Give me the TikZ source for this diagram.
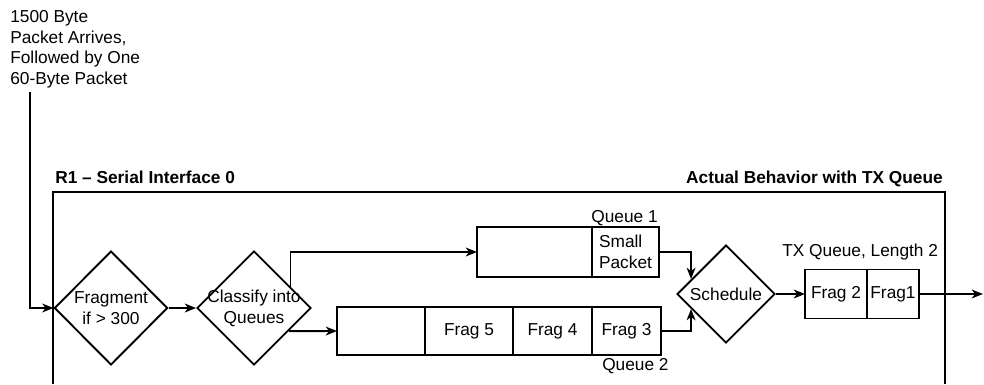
\documentclass[tikz,border=0pt]{standalone}
\usepackage{fontspec}
\setmainfont{Liberation Sans}
\usetikzlibrary{shapes.geometric, arrows.meta, calc}

\begin{document}
\begin{tikzpicture}[
  every node/.style={font=\fontsize{12.3}{14.8}\selectfont},
  cell/.style={draw, rectangle, line width=1.35pt, inner sep=0pt, outer sep=0pt,
               align=left},
  decision/.style={draw, diamond, line width=1.35pt, inner sep=-8pt, align=center},
  title/.style={font=\fontsize{12.3}{14.8}\selectfont\bfseries, inner sep=0pt},
  arrow/.style={-{Stealth[length=2.8mm, width=2.2mm, inset=0.8mm]}, line width=1.35pt}
]
  \useasboundingbox (0,0) rectangle (24.6,9.6);

  % Interface frame
  \draw[line width=1.4pt] (1.325,0) -- (1.325,4.8) -- (23.625,4.8) -- (23.625,0);
  \node[title, anchor=base west] (r1)    at (1.375,5.01)  {R1 -- Serial Interface 0};
  \node[title, anchor=base east] (behav) at (23.575,5.01) {Actual Behavior with TX Queue};

  % Incoming packets
  \node[align=left, anchor=north west, inner sep=0pt] (intro) at (0.25,9.35)
    {1500 Byte\\Packet Arrives,\\Followed by One\\60-Byte Packet};
  \coordinate (src) at (0.75,7.3);

  % Fragment and classify
  \node[decision, minimum width=2.83cm, minimum height=2.85cm] (frag) at (2.775,1.9) {Fragment\\if > 300};
  \node[decision, minimum size=2.85cm] (cls) at (6.35,1.9) {Classify into\\Queues};

  % Queue 1
  \node[cell, anchor=west, minimum width=2.875cm, minimum height=1.25cm] (q1a) at (11.925,3.3) {};
  \node[cell, anchor=west, minimum width=1.675cm, minimum height=1.25cm] (q1b) at (q1a.east) {Small\\Packet};
  \node[anchor=base east, inner sep=0pt] (q1lbl) at (16.45,4.03) {Queue 1};

  % Queue 2
  \node[cell, anchor=west, minimum width=2.2cm, minimum height=1.2cm]   (q2a) at (8.425,1.325) {};
  \node[cell, anchor=west, minimum width=2.2cm, minimum height=1.2cm]   (q2b) at (q2a.east) {Frag 5};
  \node[cell, anchor=west, minimum width=1.975cm, minimum height=1.2cm] (q2c) at (q2b.east) {Frag 4};
  \node[cell, anchor=west, minimum width=1.725cm, minimum height=1.2cm] (q2d) at (q2c.east) {Frag 3};
  \node[anchor=base west, inner sep=0pt] (q2lbl) at (15.05,0.35) {Queue 2};

  % Scheduler
  \node[decision, minimum size=2.45cm] (sch) at (18.15,2.25) {Schedule};

  % TX queue
  \node[cell, anchor=west, minimum width=1.55cm, minimum height=1.225cm] (tx2) at (20.125,2.25) {Frag 2};
  \node[cell, anchor=west, minimum width=1.3cm, minimum height=1.225cm]  (tx1) at (tx2.east) {Frag1};
  \node[anchor=base west, inner sep=0pt] (txlbl) at (19.55,3.18) {TX Queue, Length 2};
  \coordinate (out) at (24.575,2.25);

  % Arrows
  \draw[arrow] (src) |- (frag.west);
  \draw[arrow] (frag) -- (cls);
  \draw[arrow] ($(cls.north)!0.63!(cls.east)$) |- (q1a.west);
  \draw[arrow] ($(cls.south)!0.6!(cls.east)$) -- (q2a.west);
  \draw[arrow] (q1b.east) -| ($(sch.north)!0.7!(sch.west)$);
  \draw[arrow] (q2d.east) -| ($(sch.south)!0.7!(sch.west)$);
  \draw[arrow] (sch) -- (tx2);
  \draw[arrow] (tx1) -- (out);
\end{tikzpicture}
\end{document}
